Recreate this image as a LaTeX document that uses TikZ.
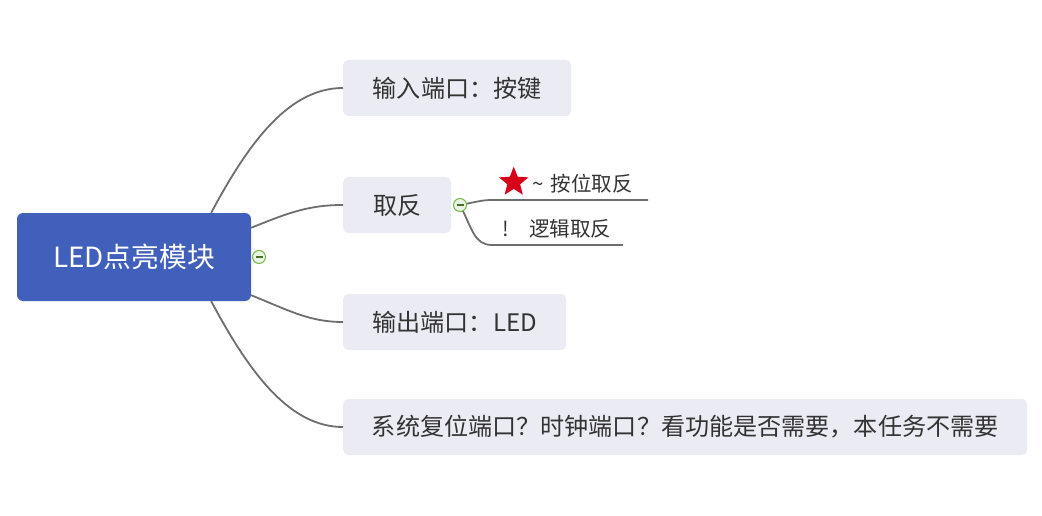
\documentclass[tikz,border=0pt]{standalone}
\usepackage{fontspec}
\setmainfont{Noto Sans CJK SC}
\usepackage{tikz}
\usetikzlibrary{shapes.geometric, positioning}

\definecolor{rootblue}{HTML}{4160BB}
\definecolor{topicgray}{HTML}{EBEBF4}
\definecolor{linegray}{HTML}{6E6E6E}
\definecolor{textgray}{HTML}{333333}
\definecolor{foldgreen}{HTML}{7AB648}
\definecolor{foldfill}{HTML}{EAF4E2}
\definecolor{stared}{HTML}{D7001B}

\tikzset{
  rootbox/.style={fill=rootblue, rounded corners=6, text=white, minimum width=234, minimum height=88,
    font=\fontsize{27.8}{32}\selectfont},
  topicbox/.style={fill=topicgray, rounded corners=5, text=textgray, minimum height=56, anchor=west,
    font=\fontsize{24.1}{28}\selectfont},
  leaftext/.style={text=textgray, inner sep=0, font=\fontsize{20.5}{24}\selectfont},
  branchline/.style={draw=linegray, line width=1.8},
  foldmark/.style={circle, draw=foldgreen, fill=foldfill, line width=1, minimum size=13, inner sep=0},
  foldsign/.style={draw=foldgreen!60!black, line width=1.2},
  redstar/.style={star, star points=5, star point ratio=2.3, fill=stared, minimum size=31, inner sep=0}
}

\begin{document}
\begin{tikzpicture}[x=1pt, y=-1pt]
  \useasboundingbox (0,0) rectangle (1042,516);

  % central topic
  \node[rootbox] (led) at (134,257) {LED点亮模块};
  \node[foldmark] (ledfold) at (259,257) {};
  \draw[foldsign] ([xshift=-3.5]ledfold.center) -- ([xshift=3.5]ledfold.center);

  % main topics
  \node[topicbox, minimum width=228] (input) at (343,88) {输入端口：按键};
  \node[topicbox, minimum width=108] (invert) at (343,205) {取反};
  \node[topicbox, minimum width=223] (output) at (343,322) {输出端口：LED};
  \node[topicbox, minimum width=684] (system) at (343,427) {系统复位端口？时钟端口？看功能是否需要，本任务不需要};

  % branches from the centre
  \draw[branchline] ([xshift=-40]led.north east) .. controls (250,140) and (290,88) .. (input.west);
  \draw[branchline] ([yshift=-15]led.north east) .. controls (290,212) and (310,205) .. (invert.west);
  \draw[branchline] ([yshift=6]led.south east) .. controls (290,311) and (310,322) .. (output.west);
  \draw[branchline] ([xshift=-40]led.south east) .. controls (250,374) and (290,427) .. (system.west);

  % sub topics of invert
  \node[leaftext, anchor=base west] (bitnot) at (532,191) {\textasciitilde\hspace{7pt}按位取反};
  \node[redstar, left=9pt of bitnot, yshift=1] (bitstar) {};
  \node[leaftext, anchor=base west] (lognot) at (502,236) {!\quad 逻辑取反};
  \coordinate (bitnotend) at (648,200);
  \coordinate (lognotend) at (623,245);

  \draw[branchline] (460,205) .. controls (476,202) and (482,200) .. (492,200) -- (bitnotend);
  \draw[branchline] (460,205) .. controls (472,228) and (474,245) .. (492,245) -- (lognotend);
  \node[foldmark] (invertfold) at (460,205) {};
  \draw[foldsign] ([xshift=-3.5]invertfold.center) -- ([xshift=3.5]invertfold.center);
\end{tikzpicture}
\end{document}
